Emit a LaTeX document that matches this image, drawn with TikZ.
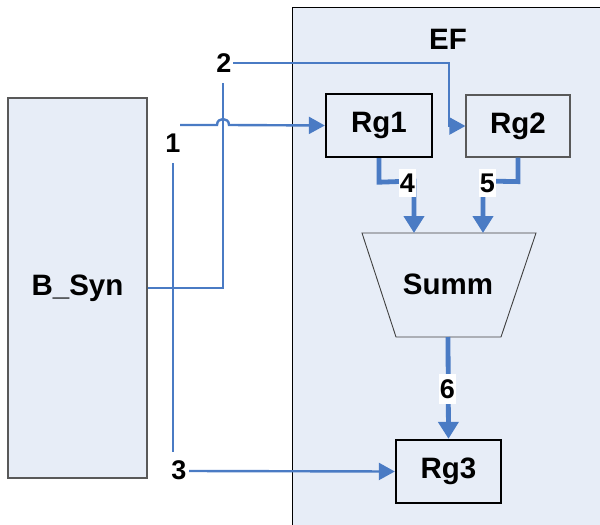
\documentclass[tikz,border=0pt]{standalone}
\usepackage{fontspec}
\setmainfont{Liberation Sans}
\usetikzlibrary{arrows.meta}
\definecolor{wireblue}{HTML}{4A7BC4}
\definecolor{bgblue}{HTML}{E7EDF7}
\tikzset{
  wire/.style={draw=wireblue,line width=2.4pt},
  thickwire/.style={draw=wireblue,line width=4.8pt},
  thinhead/.style={-{Triangle[length=16pt,width=17pt]}},
  thickhead/.style={-{Triangle[length=17pt,width=20pt]}},
  lbl/.style={font=\bfseries\fontsize{27}{27}\selectfont,inner sep=1pt},
  wlbl/.style={lbl,fill=white,inner xsep=1pt,inner ysep=5pt},
  boxtxt/.style={font=\bfseries\fontsize{29.5}{29.5}\selectfont},
  thickbox/.style={draw=black,line width=2.4pt,fill=bgblue,boxtxt,inner sep=0pt},
  thinbox/.style={draw=black!65,line width=1.2pt,fill=bgblue,boxtxt,inner sep=0pt},
}
\begin{document}
\begin{tikzpicture}[x=1pt,y=-1pt]
\useasboundingbox (0,0) rectangle (600,525);
\begin{scope}
\clip (0,0) rectangle (600,525);
\draw[black,line width=0.9pt,fill=bgblue] (292.5,7) rectangle (610,535);
\end{scope}
\node[boxtxt] (ef) at (448,39) {EF};
% B_Syn
\node[thinbox,minimum width=139pt,minimum height=380pt] (bsyn) at (77.5,288) {B\_Syn};
% Rg boxes
\node[thickbox,minimum width=106pt,minimum height=63pt] (rg1) at (379,125.5) {Rg1};
\node[thinbox,minimum width=104pt,minimum height=62pt] (rg2) at (518,126) {Rg2};
\node[thickbox,minimum width=105pt,minimum height=63pt] (rg3) at (448.5,471.5) {Rg3};
% Summ trapezoid
\draw[black!75,line width=0.9pt,fill=bgblue] (362,233) -- (536,233) -- (501,337) -- (396,337) -- cycle;
\node[boxtxt] (summ) at (448,284) {Summ};
\coordinate (s4) at (414,233);
\coordinate (s5) at (483,233);
\coordinate (s6) at (448,337);
% labels
\node[lbl] (l1) at (173,143) {1};
\node[lbl] (l2) at (224,63) {2};
\node[lbl] (l3) at (179,470) {3};
% wire 1
\coordinate (w1a) at (180,125);
\coordinate (w1b) at (173,163);
\coordinate (w1c) at (173,452);
\draw[wire,thinhead] (w1a) -- (217,125) .. controls (217,117) and (229,117) .. (229,125) -- (rg1.west);
\draw[wire] (w1b) -- (w1c);
% wire 2
\coordinate (w2a) at (223,288);
\coordinate (w2b) at (223,83);
\draw[wire] (bsyn.east) -- (w2a) -- (w2b);
\coordinate (w2c) at (233,63);
\coordinate (w2d) at (449,63);
\coordinate (w2e) at (449,126);
\draw[wire,thinhead] (w2c) -- (w2d) -- (w2e) -- (rg2.west);
% wire 3
\coordinate (w3a) at (189,471);
\draw[wire,thinhead] (w3a) -- (rg3.west);
% wire 4
\draw[thickwire,thickhead] (rg1.south) -- ++(0,24) -- (414,181) -- (s4);
\node[wlbl] (l4) at (407.5,183) {4};
% wire 5
\draw[thickwire,thickhead] (rg2.south) -- ++(0,24) -- (483,181) -- (s5);
\node[wlbl] (l5) at (487.5,183) {5};
% wire 6
\draw[thickwire,thickhead] (s6) -- (rg3.north);
\node[wlbl] (l6) at (447.5,389) {6};
\end{tikzpicture}
\end{document}
